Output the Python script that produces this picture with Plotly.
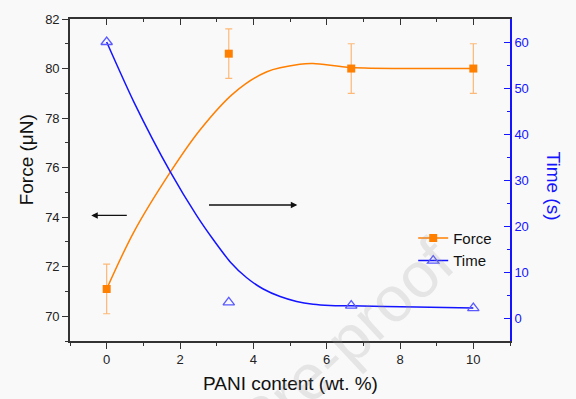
import plotly.graph_objects as go

# ---- data ----
pani = [0, 3.33, 6.67, 10]
force = [71.1, 80.6, 80.0, 80.0]
force_err = [1.0, 1.0, 1.0, 1.0]
time_s = [60.0, 3.4, 2.7, 2.15]

# smooth fit curves
force_fit_x = [0, 0.74, 1.74, 2.55, 3.46, 4.37, 5.27, 5.63, 6.66, 8.44, 10]
force_fit_y = [71.1, 73.4, 75.83, 77.53, 79.0, 79.87, 80.17, 80.2, 80.04, 80.0, 80.0]
time_fit_x = [0, 0.74, 1.74, 2.46, 2.92, 3.37, 3.82, 4.27, 4.73, 5.18, 5.63, 6.09, 6.66, 8.44, 10]
time_fit_y = [60.0, 47.0, 31.7, 22.2, 16.9, 12.2, 8.75, 6.3, 4.67, 3.6, 3.0, 2.73, 2.65, 2.4, 2.15]

ORANGE = "#FF7F00"
ERR = "rgba(255,140,30,0.6)"
BLUE = "#1414FF"
TRI = "#5A5AFF"
FONT = "Liberation Sans, Arial, sans-serif"
BG = "#f9f9f9"

fig = go.Figure()

fig.add_trace(go.Scatter(x=force_fit_x, y=force_fit_y, mode="lines",
                         line=dict(color=ORANGE, width=1.5, shape="spline", smoothing=0.9),
                         showlegend=False, hoverinfo="skip"))
fig.add_trace(go.Scatter(x=time_fit_x, y=time_fit_y, mode="lines", yaxis="y2",
                         line=dict(color=BLUE, width=1.5, shape="spline", smoothing=0.7),
                         showlegend=False, hoverinfo="skip"))
fig.add_trace(go.Scatter(x=pani, y=force, mode="markers",
                         marker=dict(symbol="square", size=8, color=ORANGE),
                         error_y=dict(type="data", array=force_err, color=ERR, thickness=1.2, width=3.5),
                         showlegend=False))
fig.add_trace(go.Scatter(x=pani, y=time_s, mode="markers", yaxis="y2",
                         marker=dict(symbol="triangle-up-open", size=10, color=TRI, line=dict(width=1.3)),
                         showlegend=False))
# legend entries
fig.add_trace(go.Scatter(x=[None], y=[None], mode="lines+markers", name="Force",
                         line=dict(color=ORANGE, width=1.5),
                         marker=dict(symbol="square", size=8, color=ORANGE)))
fig.add_trace(go.Scatter(x=[None], y=[None], mode="lines+markers", name="Time",
                         line=dict(color=BLUE, width=1.5),
                         marker=dict(symbol="triangle-up-open", size=10, color=TRI, line=dict(width=1.3))))
# invisible trace for top mirrored axis
fig.add_trace(go.Scatter(x=[0], y=[75], xaxis="x2", mode="markers",
                         marker=dict(opacity=0), showlegend=False, hoverinfo="skip"))

axis_common = dict(showgrid=False, zeroline=False, showline=True, linewidth=1.6)

fig.update_layout(
    width=576, height=399,
    margin=dict(l=70, r=66, t=15, b=58),
    paper_bgcolor=BG, plot_bgcolor=BG,
    font=dict(family=FONT, size=13, color="#222"),
    xaxis=dict(range=[-1, 11], tick0=0, dtick=2, ticks="outside", ticklen=6, tickwidth=1.3,
               linecolor="#333", tickcolor="#333",
               minor=dict(dtick=1, ticks="outside", ticklen=3.5, tickwidth=1.3, tickcolor="#333"),
               **axis_common),
    xaxis2=dict(range=[-1, 11], overlaying="x", side="top", anchor="y", tick0=0, dtick=2,
                ticks="inside", ticklen=6, tickwidth=1.3, showticklabels=False,
                linecolor="#333", tickcolor="#333",
                minor=dict(dtick=1, ticks="inside", ticklen=3.5, tickwidth=1.3, tickcolor="#333"),
                **axis_common),
    yaxis=dict(range=[69, 82], tick0=70, dtick=2, ticks="outside", ticklen=6, tickwidth=1.3,
               linecolor="#333", tickcolor="#333",
               minor=dict(dtick=1, ticks="outside", ticklen=3.5, tickwidth=1.3, tickcolor="#333"),
               **axis_common),
    yaxis2=dict(range=[-5, 65], tick0=0, dtick=10, overlaying="y", side="right", anchor="x",
                ticks="inside", ticklen=6, tickwidth=1.3,
                linecolor=BLUE, tickcolor=BLUE, tickfont=dict(color=BLUE, size=13),
                minor=dict(dtick=5, ticks="inside", ticklen=3.5, tickwidth=1.3, tickcolor=BLUE),
                **axis_common),
    legend=dict(x=0.78, y=0.37, xanchor="left", yanchor="top",
                bgcolor="rgba(0,0,0,0)", font=dict(size=15, color="#111"),
                tracegroupgap=0, itemwidth=30),
)

C = dict(xanchor="center", yanchor="middle", showarrow=False)
annotations = [
    dict(text="Force (μN)", x=-0.10, y=0.561, xref="paper", yref="paper", textangle=-90,
         font=dict(size=19, color="#111"), **C),
    dict(text="Time (s)", x=1.099, y=0.481, xref="paper", yref="paper", textangle=90,
         font=dict(size=19, color=BLUE), **C),
    dict(text="PANI content (wt. %)", x=0.5, y=-0.133, xref="paper", yref="paper",
         font=dict(size=19, color="#111"), **C),
    # arrows
    dict(x=-0.42, y=74.07, ax=0.59, ay=74.07, xref="x", yref="y", axref="x", ayref="y",
         text="", showarrow=True, arrowhead=2, arrowsize=1, arrowwidth=1.3, arrowcolor="#111"),
    dict(x=5.2, y=74.49, ax=2.75, ay=74.49, xref="x", yref="y", axref="x", ayref="y",
         text="", showarrow=True, arrowhead=2, arrowsize=1, arrowwidth=1.3, arrowcolor="#111"),
    # watermark
    dict(text="Pre-proof", x=0.625, y=-0.007, xref="paper", yref="paper", textangle=-43,
         font=dict(size=64, color="rgba(150,150,150,0.2)"), **C),
]
fig.update_layout(annotations=annotations)

fig.write_html("out.html", config={"displayModeBar": False},
               post_script="document.body.style.margin='0';document.body.style.padding='0';"
                           "document.documentElement.style.overflow='hidden';")
